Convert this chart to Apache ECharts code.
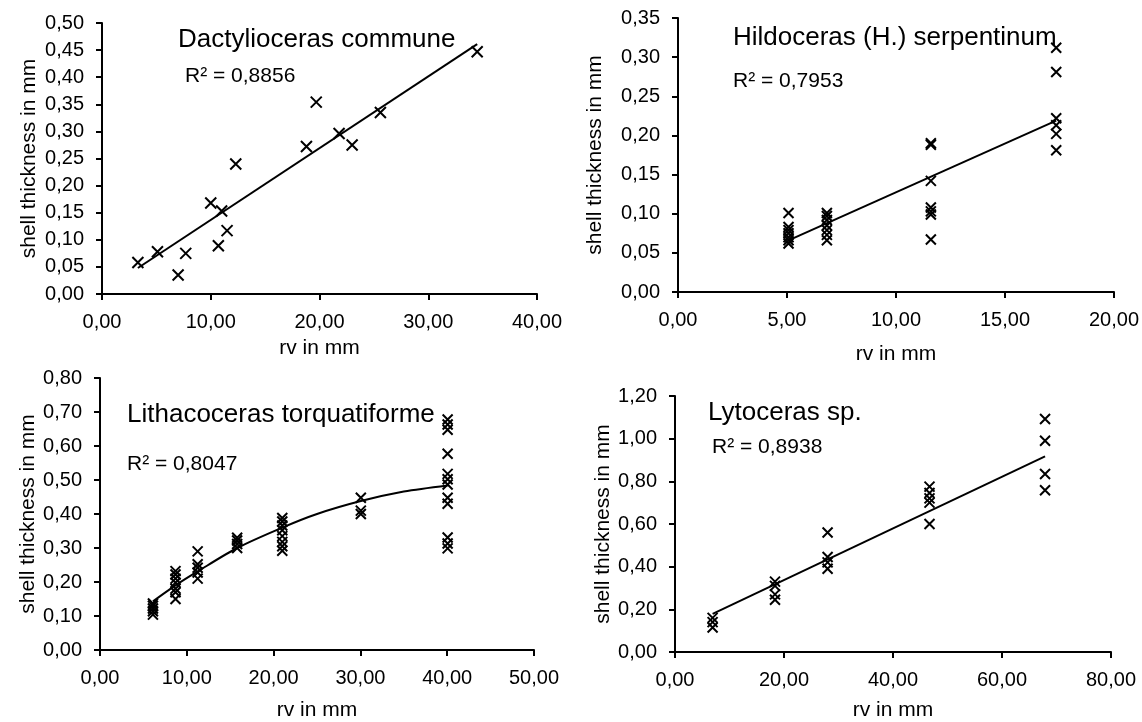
<!DOCTYPE html>
<html>
<head>
<meta charset="utf-8">
<script src="https://cdn.jsdelivr.net/npm/echarts@6/dist/echarts.min.js"></script>
<style>html,body{margin:0;padding:0;background:#fff}#c{width:1142px;height:722px}</style>
</head>
<body>
<div id="c"></div>
<script>
// ---- Panel 1: Dactylioceras commune ----
const dactX = [3.3, 5.1, 7.0, 7.7, 10.0, 10.7, 11.0, 11.5, 12.3, 18.8, 19.7, 21.8, 23.0, 25.6, 34.5];
const dactY = [0.058, 0.078, 0.035, 0.075, 0.168, 0.089, 0.153, 0.117, 0.240, 0.272, 0.354, 0.296, 0.275, 0.335, 0.447];
const dactTrendX = [3.3, 34.5];
const dactTrendY = [0.048, 0.461];

// ---- Panel 2: Hildoceras (H.) serpentinum ----
const hildX = [5.07, 6.83, 11.6, 17.35];
const hildY = [
  [0.101, 0.083, 0.079, 0.075, 0.070, 0.066, 0.062],
  [0.101, 0.097, 0.092, 0.085, 0.079, 0.073, 0.066],
  [0.190, 0.188, 0.142, 0.108, 0.103, 0.099, 0.067],
  [0.312, 0.281, 0.222, 0.213, 0.202, 0.181]
];
const hildTrendX = [5.07, 17.35];
const hildTrendY = [0.066, 0.219];

// ---- Panel 3: Lithacoceras torquatiforme ----
const lithX = [6.1, 8.7, 11.25, 15.8, 21.0, 30.05, 40.05];
const lithY = [
  [0.137, 0.130, 0.122, 0.114, 0.104],
  [0.232, 0.222, 0.210, 0.198, 0.180, 0.170, 0.150],
  [0.290, 0.252, 0.242, 0.228, 0.210],
  [0.330, 0.322, 0.312, 0.300],
  [0.388, 0.378, 0.366, 0.352, 0.335, 0.318, 0.305, 0.292],
  [0.448, 0.410, 0.400],
  [0.678, 0.663, 0.648, 0.577, 0.518, 0.502, 0.487, 0.448, 0.430, 0.331, 0.313, 0.299]
];
const lithTrendX = [6.1, 8.7, 11.25, 15.8, 21.0, 25.0, 30.05, 35.0, 40.05];
const lithTrendY = [0.143, 0.190, 0.231, 0.300, 0.360, 0.400, 0.438, 0.466, 0.484];

// ---- Panel 4: Lytoceras sp. ----
const lytoX = [6.9, 18.35, 28.0, 46.7, 67.9];
const lytoY = [
  [0.160, 0.140, 0.115],
  [0.330, 0.310, 0.270, 0.245],
  [0.560, 0.445, 0.420, 0.390],
  [0.775, 0.745, 0.720, 0.700, 0.600],
  [1.092, 0.990, 0.834, 0.758]
];
const lytoTrendX = [6.9, 67.9];
const lytoTrendY = [0.179, 0.917];

// ---- texts ----
const panelTitles = ['Dactylioceras commune', 'Hildoceras (H.) serpentinum', 'Lithacoceras torquatiforme', 'Lytoceras sp.'];
const r2Labels = ['R² = 0,8856', 'R² = 0,7953', 'R² = 0,8047', 'R² = 0,8938'];
const xAxisName = 'rv in mm';
const yAxisName = 'shell thickness in mm';
const xRanges = [[0, 40, 10], [0, 20, 5], [0, 50, 10], [0, 80, 20]];
const yRanges = [[0, 0.5, 0.05], [0, 0.35, 0.05], [0, 0.8, 0.1], [0, 1.2, 0.2]];

// ---- helpers ----
const FONT = 'Liberation Sans, Arial, sans-serif';
function pairs(xs, ys) { return xs.map((x, i) => [x, ys[i]]); }
function groups(xs, yss) {
  const out = [];
  xs.forEach((x, i) => yss[i].forEach(y => out.push([x, y])));
  return out;
}
const fmt = v => v.toFixed(2).replace('.', ',');
const CROSS = 'path://M0,0L10,10M10,0L0,10';

const grids = [
  { left: 102, top: 23, width: 435, height: 271 },
  { left: 678, top: 18, width: 436, height: 274 },
  { left: 100, top: 378, width: 434, height: 273 },
  { left: 675, top: 396, width: 436, height: 257 }
];
const yNameGaps = [62, 72, 60, 60];
const xNameGaps = [44, 52, 50, 48];

const xAxes = xRanges.map((r, i) => ({
  type: 'value', gridIndex: i, min: r[0], max: r[1], interval: r[2],
  name: xAxisName, nameLocation: 'middle', nameGap: xNameGaps[i],
  nameTextStyle: { color: '#000', fontSize: 21, fontFamily: FONT },
  axisLine: { lineStyle: { color: '#000', width: 2 } },
  axisTick: { show: true, length: 6, lineStyle: { color: '#000', width: 2 } },
  axisLabel: { color: '#000', fontSize: 20, fontFamily: FONT, margin: 18, formatter: fmt },
  splitLine: { show: false }
}));
const yAxes = yRanges.map((r, i) => ({
  type: 'value', gridIndex: i, min: r[0], max: r[1], interval: r[2],
  name: yAxisName, nameLocation: 'middle', nameGap: yNameGaps[i],
  nameTextStyle: { color: '#000', fontSize: 21, fontFamily: FONT },
  axisLine: { lineStyle: { color: '#000', width: 2 } },
  axisTick: { show: true, length: 6, lineStyle: { color: '#000', width: 2 } },
  axisLabel: { color: '#000', fontSize: 20, fontFamily: FONT, margin: 18, formatter: fmt },
  splitLine: { show: false }
}));

const scatterData = [
  pairs(dactX, dactY),
  groups(hildX, hildY),
  groups(lithX, lithY),
  groups(lytoX, lytoY)
];
const trendData = [
  pairs(dactTrendX, dactTrendY),
  pairs(hildTrendX, hildTrendY),
  pairs(lithTrendX, lithTrendY),
  pairs(lytoTrendX, lytoTrendY)
];

const series = [];
for (let i = 0; i < 4; i++) {
  series.push({
    type: 'line', xAxisIndex: i, yAxisIndex: i, data: trendData[i],
    showSymbol: false, smooth: i === 2 ? 0.3 : false,
    lineStyle: { color: '#000', width: 2 }, silent: true
  });
  series.push({
    type: 'scatter', xAxisIndex: i, yAxisIndex: i, data: scatterData[i],
    symbol: CROSS, symbolSize: i === 0 ? 11 : 10,
    itemStyle: { color: '#000', borderColor: '#000', borderWidth: 2, opacity: 1 }
  });
}

const titlePos = [[178, 27], [733, 25], [127, 402], [708, 400]];
const r2Pos = [[185, 66], [733, 71], [127, 454], [712, 437]];
const titles = [];
for (let i = 0; i < 4; i++) {
  titles.push({ text: panelTitles[i], left: titlePos[i][0], top: titlePos[i][1], padding: 0,
    textStyle: { color: '#000', fontSize: 26, fontWeight: 'normal', fontFamily: FONT } });
  titles.push({ text: r2Labels[i], left: r2Pos[i][0], top: r2Pos[i][1], padding: 0,
    textStyle: { color: '#000', fontSize: 21, fontWeight: 'normal', fontFamily: FONT } });
}

const chart = echarts.init(document.getElementById('c'), null, { renderer: 'canvas' });
chart.setOption({
  animation: false,
  backgroundColor: '#fff',
  title: titles,
  grid: grids,
  xAxis: xAxes,
  yAxis: yAxes,
  series: series
});
</script>
</body>
</html>
